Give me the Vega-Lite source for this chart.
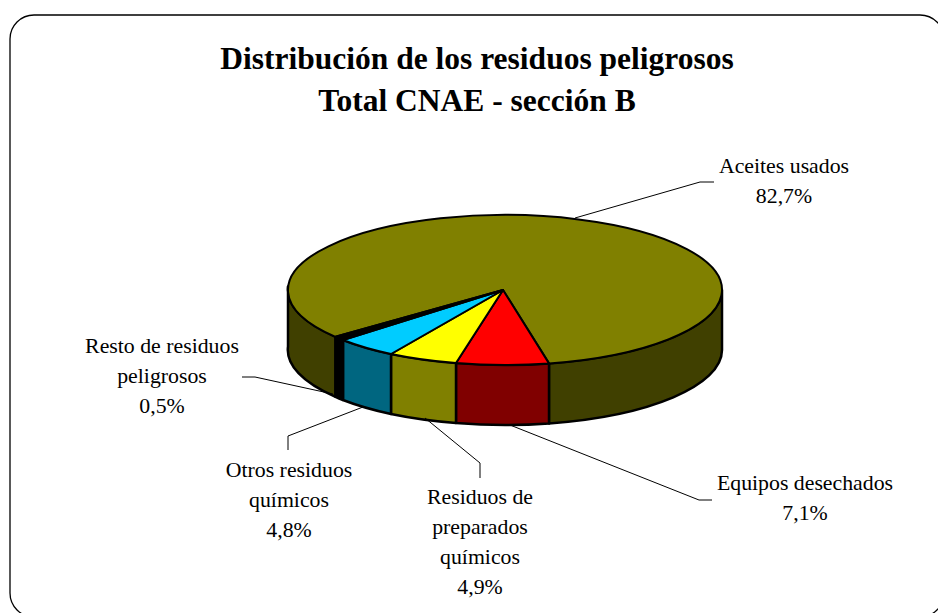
{
  "$schema": "https://vega.github.io/schema/vega-lite/v6.json",
  "width": 938,
  "height": 613,
  "autosize": {"type": "none"},
  "padding": 0,
  "background": "white",
  "config": {"view": {"stroke": null}},
  "title": {
    "text": ["Distribución de los residuos peligrosos", "Total CNAE - sección B"],
    "font": "Liberation Serif",
    "fontWeight": "bold",
    "fontSize": 31.5,
    "lineHeight": 42,
    "color": "#000000",
    "anchor": "middle",
    "baseline": "top",
    "offset": 0,
    "dx": 8,
    "dy": 117
  },
  "datasets": {
    "residuos": [
      {"residuo": "Aceites usados", "pct": 82.7, "etiqueta": "Aceites usados\n82,7%"},
      {"residuo": "Equipos desechados", "pct": 7.1, "etiqueta": "Equipos desechados\n7,1%"},
      {"residuo": "Residuos de preparados químicos", "pct": 4.9, "etiqueta": "Residuos de\npreparados\nquímicos\n4,9%"},
      {"residuo": "Otros residuos químicos", "pct": 4.8, "etiqueta": "Otros residuos\nquímicos\n4,8%"},
      {"residuo": "Resto de residuos peligrosos", "pct": 0.5, "etiqueta": "Resto de residuos\npeligrosos\n0,5%"}
    ]
  },
  "data": {"name": "residuos"},
  "layer": [
    {
      "data": {"values": [{"elemento": "marco"}]},
      "mark": {
        "type": "point",
        "filled": false,
        "opacity": 1,
        "size": 4,
        "stroke": "#000000",
        "strokeWidth": 1.3,
        "shape": "M-435,-291.5 L451,-291.5 A24 24 0 0 1 475,-267.5 L475,286.5 A24 24 0 0 1 451,310.5 L-435,310.5 A24 24 0 0 1 -459,286.5 L-459,-267.5 A24 24 0 0 1 -435,-291.5 Z"
      }
    },
    {
      "mark": {"type": "point", "filled": true, "opacity": 1, "size": 4, "stroke": "#000000", "strokeWidth": 2.5, "strokeJoin": "round"},
      "encoding": {
        "shape": {
          "field": "residuo",
          "type": "nominal",
          "legend": null,
          "scale": {
            "domain": ["Aceites usados", "Equipos desechados", "Residuos de preparados químicos", "Otros residuos químicos", "Resto de residuos peligrosos"],
            "range": [
              "M80,56.9 A217 75 0 0 0 253,-16.5 L253,43.5 A217 75 0 0 1 80,116.9 Z M-133.5,30.3 A217 75 0 0 1 -181,-20 L-181,40 A217 75 0 0 0 -133.5,90.3 Z",
              "M80,56.9 A217 75 0 0 1 -13,56.5 L-13,116.5 A217 75 0 0 0 80,116.9 Z",
              "M-13,56.5 A217 75 0 0 1 -78,47.5 L-78,107.5 A217 75 0 0 0 -13,116.5 Z",
              "M-78,47.5 A217 75 0 0 1 -126,33.5 L-126,93.5 A217 75 0 0 0 -78,107.5 Z",
              "M-126,33.5 A217 75 0 0 1 -133.5,30.3 L-133.5,90.3 A217 75 0 0 0 -126,93.5 Z"
            ]
          }
        },
        "fill": {
          "field": "residuo",
          "type": "nominal",
          "legend": null,
          "scale": {
            "domain": ["Aceites usados", "Equipos desechados", "Residuos de preparados químicos", "Otros residuos químicos", "Resto de residuos peligrosos"],
            "range": ["#404000", "#800000", "#808000", "#006680", "#000000"]
          }
        }
      }
    },
    {
      "mark": {"type": "point", "filled": true, "opacity": 1, "size": 4, "stroke": "#000000", "strokeWidth": 2, "strokeJoin": "round"},
      "encoding": {
        "shape": {
          "field": "residuo",
          "type": "nominal",
          "legend": null,
          "scale": {
            "domain": ["Aceites usados", "Equipos desechados", "Residuos de preparados químicos", "Otros residuos químicos", "Resto de residuos peligrosos"],
            "range": [
              "M34,-16.5 L80,56.9 A217 75 0 1 0 -133.5,30.3 Z",
              "M34,-16.5 L80,56.9 A217 75 0 0 1 -13,56.5 Z",
              "M34,-16.5 L-13,56.5 A217 75 0 0 1 -78,47.5 Z",
              "M34,-16.5 L-78,47.5 A217 75 0 0 1 -126,33.5 Z",
              "M34,-16.5 L-126,33.5 A217 75 0 0 1 -133.5,30.3 Z"
            ]
          }
        },
        "fill": {
          "field": "residuo",
          "type": "nominal",
          "legend": null,
          "scale": {
            "domain": ["Aceites usados", "Equipos desechados", "Residuos de preparados químicos", "Otros residuos químicos", "Resto de residuos peligrosos"],
            "range": ["#808000", "#FF0000", "#FFFF00", "#00CCFF", "#000000"]
          }
        }
      }
    },
    {
      "mark": {"type": "point", "filled": false, "opacity": 1, "size": 4, "stroke": "#000000", "strokeWidth": 1},
      "encoding": {
        "shape": {
          "field": "residuo",
          "type": "nominal",
          "legend": null,
          "scale": {
            "domain": ["Aceites usados", "Equipos desechados", "Residuos de preparados químicos", "Otros residuos químicos", "Resto de residuos peligrosos"],
            "range": [
              "M106,-88.5 L231,-124.5 L245,-124.5",
              "M41,118.5 L230,193.5 L243,193.5",
              "M-44,111.5 L11,156.5 L11,171.5",
              "M-106,100.5 L-181,129.5 L-181,143.5",
              "M-227,70.5 L-214,70.5 L-136,87.5"
            ]
          }
        }
      }
    },
    {
      "mark": {"type": "text", "font": "Liberation Serif", "fontSize": 21.8, "lineHeight": 30, "lineBreak": "\n", "align": "center", "baseline": "middle", "color": "#000000"},
      "encoding": {
        "text": {"field": "etiqueta", "type": "nominal"},
        "x": {"field": "pct", "type": "quantitative", "axis": null, "scale": {"domain": [0.5, 4.8, 4.9, 7.1, 82.7], "range": [162, 289, 480, 805, 784]}},
        "y": {"field": "pct", "type": "quantitative", "axis": null, "scale": {"domain": [0.5, 4.8, 4.9, 7.1, 82.7], "range": [346, 470, 497, 483, 166]}}
      }
    }
  ],
  "resolve": {"scale": {"shape": "independent", "fill": "independent"}}
}
